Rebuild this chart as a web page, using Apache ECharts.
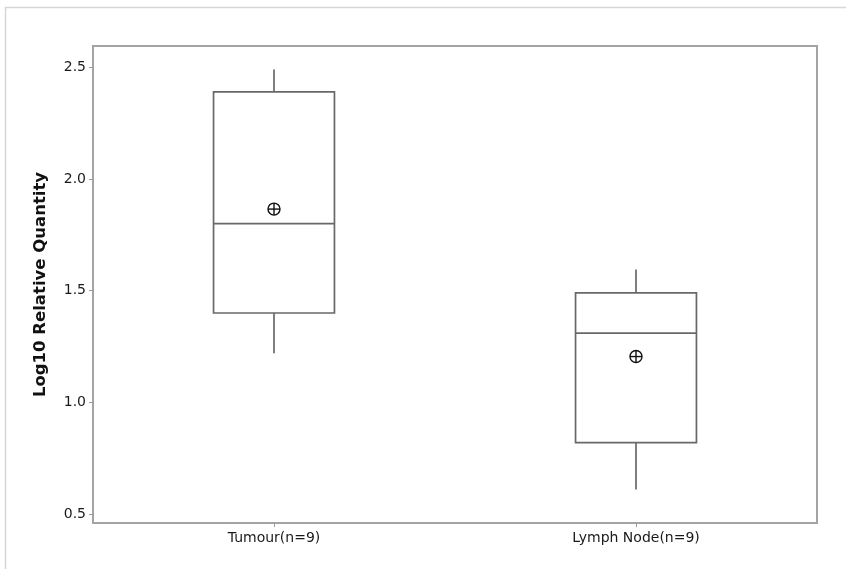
<!DOCTYPE html>
<html>
<head>
<meta charset="utf-8">
<script src="https://cdn.jsdelivr.net/npm/echarts@6/dist/echarts.min.js"></script>
<style>
html,body{margin:0;padding:0;background:#fff;}
#chart{width:846px;height:569px;}
</style>
</head>
<body>
<div id="chart"></div>
<script>
const categories = ['Tumour(n=9)', 'Lymph Node(n=9)'];
const whiskerLow = [1.22, 0.61];
const q1 = [1.40, 0.82];
const median = [1.80, 1.31];
const q3 = [2.39, 1.49];
const whiskerHigh = [2.49, 1.595];
const means = [1.865, 1.205];
const yAxisTitle = 'Log10 Relative Quantity';

const boxData = categories.map((c, i) => [i, whiskerLow[i], q1[i], median[i], q3[i], whiskerHigh[i]]);
const meanData = categories.map((c, i) => [i, means[i]]);

const lineColor = '#686868';

function renderBox(params, api) {
  const x = api.value(0);
  const pLo = api.coord([x, api.value(1)]);
  const pQ1 = api.coord([x, api.value(2)]);
  const pMed = api.coord([x, api.value(3)]);
  const pQ3 = api.coord([x, api.value(4)]);
  const pHi = api.coord([x, api.value(5)]);
  const half = api.size([1, 0])[0] * 0.167;
  const cx = pMed[0];
  const st = { stroke: lineColor, lineWidth: 1.7, fill: null };
  return {
    type: 'group',
    children: [
      { type: 'line', shape: { x1: cx, y1: pHi[1], x2: cx, y2: pQ3[1] }, style: st },
      { type: 'line', shape: { x1: cx, y1: pQ1[1], x2: cx, y2: pLo[1] }, style: st },
      { type: 'rect', shape: { x: cx - half, y: pQ3[1], width: 2 * half, height: pQ1[1] - pQ3[1] },
        style: { stroke: lineColor, lineWidth: 1.7, fill: '#fff' } },
      { type: 'line', shape: { x1: cx - half, y1: pMed[1], x2: cx + half, y2: pMed[1] }, style: st }
    ]
  };
}

function renderMean(params, api) {
  const p = api.coord([api.value(0), api.value(1)]);
  const r = 6;
  const st = { stroke: '#111', lineWidth: 1.4, fill: null };
  return {
    type: 'group',
    children: [
      { type: 'circle', shape: { cx: p[0], cy: p[1], r: r }, style: st },
      { type: 'line', shape: { x1: p[0] - r, y1: p[1], x2: p[0] + r, y2: p[1] }, style: st },
      { type: 'line', shape: { x1: p[0], y1: p[1] - r, x2: p[0], y2: p[1] + r }, style: st }
    ]
  };
}

const chart = echarts.init(document.getElementById('chart'), null, { renderer: 'canvas' });
chart.setOption({
  backgroundColor: '#fff',
  animation: false,
  graphic: [{
    type: 'rect', left: 3, top: 5, z: -10,
    shape: { width: 900, height: 700 },
    style: { fill: null, stroke: '#d6d6d6', lineWidth: 1.5 }
  }],
  grid: {
    left: 93, top: 46, right: 29, bottom: 46,
    show: true, borderColor: '#a4a4a4', borderWidth: 2, backgroundColor: 'transparent'
  },
  xAxis: {
    type: 'category',
    data: categories,
    boundaryGap: true,
    axisLine: { show: false },
    axisTick: { show: true, alignWithLabel: true, length: 4, lineStyle: { color: '#999' } },
    axisLabel: { color: '#1a1a1a', fontFamily: 'DejaVu Sans', fontSize: 14, margin: 8 },
    splitLine: { show: false }
  },
  yAxis: {
    type: 'value',
    min: 0.46, max: 2.595,
    splitNumber: 4, minInterval: 0.5, maxInterval: 0.5,
    name: yAxisTitle,
    nameLocation: 'middle',
    nameGap: 44,
    nameRotate: 90,
    nameTextStyle: { color: '#111', fontFamily: 'DejaVu Sans', fontWeight: 'bold', fontSize: 16.5 },
    axisLine: { show: false },
    axisTick: { show: true, length: 4, lineStyle: { color: '#999' } },
    axisLabel: {
      color: '#1a1a1a', fontFamily: 'DejaVu Sans', fontSize: 14, margin: 7,
      showMinLabel: false, showMaxLabel: false,
      formatter: v => v.toFixed(1)
    },
    splitLine: { show: false }
  },
  series: [
    { type: 'custom', renderItem: renderBox, data: boxData, encode: { x: 0, y: [1, 2, 3, 4, 5] }, z: 2 },
    { type: 'custom', renderItem: renderMean, data: meanData, encode: { x: 0, y: 1 }, z: 3 }
  ]
});
</script>
</body>
</html>
